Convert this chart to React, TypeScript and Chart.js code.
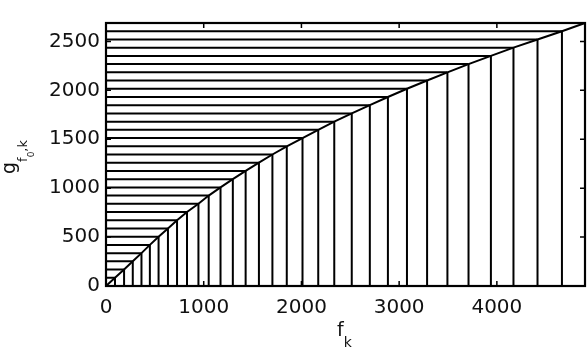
import React, { useEffect, useRef } from "react";
import { Chart, registerables } from "chart.js";

Chart.register(...registerables);

// f_k values (x) and g_{f0,k} values (y) of the warping points
const fVals = [92, 185, 274, 363, 449, 538, 634, 727, 829, 946, 1051, 1172, 1298, 1429, 1565, 1703, 1850, 2011, 2172, 2336, 2515, 2700, 2885, 3080, 3286, 3494, 3710, 3939, 4170, 4416, 4666, 4902];
const gVals = [84, 168, 252, 336, 420, 504, 588, 672, 756, 840, 924, 1008, 1092, 1176, 1260, 1344, 1428, 1512, 1596, 1680, 1764, 1848, 1932, 2016, 2100, 2184, 2268, 2352, 2436, 2520, 2604, 2688];
const xTicks = [0, 1000, 2000, 3000, 4000];
const yTicks = [0, 500, 1000, 1500, 2000, 2500];

const FONT = "'DejaVu Sans', sans-serif";

type Piece = { t: string; size: number; dy: number };

function drawPieces(ctx: CanvasRenderingContext2D, pieces: Piece[]) {
  let x = 0;
  for (const p of pieces) {
    ctx.font = `${p.size}px ${FONT}`;
    ctx.fillText(p.t, x, p.dy);
    x += ctx.measureText(p.t).width;
  }
}

const framePlugin = {
  id: "frame",
  afterDraw(chart: any) {
    const { ctx, chartArea: a, scales } = chart;
    const xs = scales.x;
    const ys = scales.y;
    ctx.save();
    ctx.strokeStyle = "#000";
    ctx.lineWidth = 1.5;
    const tl = 5;
    ctx.beginPath();
    for (const v of xTicks) {
      const px = xs.getPixelForValue(v);
      ctx.moveTo(px, a.bottom);
      ctx.lineTo(px, a.bottom - tl);
      ctx.moveTo(px, a.top);
      ctx.lineTo(px, a.top + tl);
    }
    for (const v of yTicks) {
      const py = ys.getPixelForValue(v);
      ctx.moveTo(a.left, py);
      ctx.lineTo(a.left + tl, py);
      ctx.moveTo(a.right, py);
      ctx.lineTo(a.right - tl, py);
    }
    ctx.stroke();
    ctx.lineWidth = 2.2;
    ctx.strokeRect(a.left, a.top, a.right - a.left, a.bottom - a.top);

    // axis labels
    ctx.fillStyle = "#111";
    ctx.textBaseline = "alphabetic";
    ctx.textAlign = "left";
    // x label: f_k
    ctx.save();
    ctx.translate(337, 336);
    drawPieces(ctx, [
      { t: "f", size: 19, dy: 0 },
      { t: "k", size: 14, dy: 11 },
    ]);
    ctx.restore();
    // y label: g_{f_0,k}
    ctx.save();
    ctx.translate(15, 174);
    ctx.rotate(-Math.PI / 2);
    drawPieces(ctx, [
      { t: "g", size: 19, dy: 0 },
      { t: "f", size: 13, dy: 12 },
      { t: "0", size: 9, dy: 19 },
      { t: ",", size: 13, dy: 12 },
      { t: "k", size: 13, dy: 12 },
    ]);
    ctx.restore();
    ctx.restore();
  },
};

export default function App() {
  const ref = useRef<HTMLCanvasElement>(null);
  useEffect(() => {
    document.body.style.margin = "0";
    const horiz: any[] = [];
    const vert: any[] = [];
    const curve: any[] = [{ x: 0, y: 0 }];
    for (let i = 0; i < fVals.length; i++) {
      horiz.push({ x: 0, y: gVals[i] }, { x: fVals[i], y: gVals[i] }, { x: fVals[i], y: null });
      vert.push({ x: fVals[i], y: 0 }, { x: fVals[i], y: gVals[i] }, { x: fVals[i], y: null });
      curve.push({ x: fVals[i], y: gVals[i] });
    }
    const common = {
      showLine: true,
      borderColor: "#000",
      borderWidth: 2,
      pointRadius: 0,
      spanGaps: false,
      clip: false as any,
    };
    const tickFont = { family: FONT, size: 20 };
    const chart = new Chart(ref.current!, {
      type: "scatter",
      data: {
        datasets: [
          { ...common, data: horiz },
          { ...common, data: vert },
          { ...common, data: curve },
        ],
      },
      options: {
        animation: false,
        responsive: false,
        layout: { padding: { left: 0, right: 2, top: 23, bottom: 0 } },
        plugins: { legend: { display: false }, tooltip: { enabled: false } },
        scales: {
          x: {
            type: "linear",
            min: 0,
            max: fVals[fVals.length - 1],
            grid: { display: false, drawTicks: false },
            border: { display: false },
            afterBuildTicks: (s: any) => {
              s.ticks = xTicks.map((v) => ({ value: v }));
            },
            afterFit: (s: any) => {
              s.height = 68;
            },
            ticks: {
              font: tickFont,
              color: "#111",
              padding: 10,
              maxRotation: 0,
              autoSkip: false,
              callback: (v: any) => String(v),
            },
          },
          y: {
            type: "linear",
            min: 0,
            max: gVals[gVals.length - 1],
            grid: { display: false, drawTicks: false },
            border: { display: false },
            afterBuildTicks: (s: any) => {
              s.ticks = yTicks.map((v) => ({ value: v }));
            },
            afterFit: (s: any) => {
              s.width = 106;
            },
            ticks: {
              font: tickFont,
              color: "#111",
              padding: 6,
              autoSkip: false,
              callback: (v: any) => String(v),
            },
          },
        },
      },
      plugins: [framePlugin],
    });
    return () => chart.destroy();
  }, []);
  return (
    <div style={{ position: "absolute", left: 0, top: 0, width: 587, height: 354, background: "#fff" }}>
      <canvas ref={ref} width={587} height={354} />
    </div>
  );
}
